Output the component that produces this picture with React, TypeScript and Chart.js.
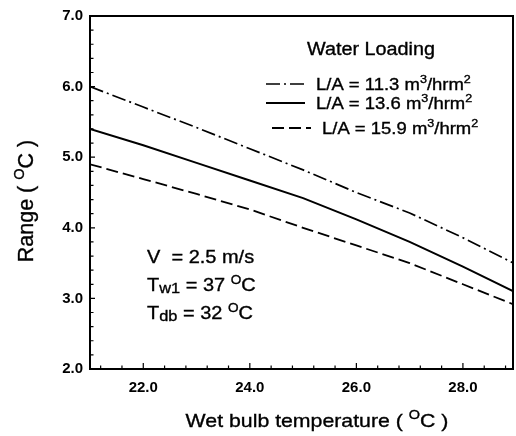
import React, { useEffect, useRef } from "react";
import { Chart, registerables } from "chart.js";

Chart.register(...registerables);

// ---- data ----
const X_VALUES = [21, 22, 23, 24, 25, 26, 27, 28, 29];
const SERIES_11_3 = [6.0, 5.71, 5.42, 5.12, 4.82, 4.5, 4.21, 3.86, 3.48];
const SERIES_13_6 = [5.4, 5.17, 4.92, 4.67, 4.42, 4.12, 3.8, 3.45, 3.08];
const SERIES_15_9 = [4.9, 4.69, 4.48, 4.26, 4.0, 3.75, 3.5, 3.2, 2.9];
const SERIES_LABELS = ["11.3", "13.6", "15.9"];
const X_TICKS = [22, 24, 26, 28];
const Y_TICKS = [2, 3, 4, 5, 6, 7];
const X_MINOR_STEP = 0.4;
const X_MINOR_START = 21.2;
const Y_MINOR_STEP = 0.2;

const FONT = "'Liberation Sans', Arial, Helvetica, sans-serif";

type Part = { t: string; sup?: boolean; sub?: boolean };

function partSize(p: Part, size: number) {
  if (p.sup) return size * 0.68;
  if (p.sub) return size * 0.82;
  return size;
}

function drawRich(
  ctx: CanvasRenderingContext2D,
  parts: Part[],
  x: number,
  y: number,
  size: number,
  sx = 1,
  align: "left" | "center" = "left"
) {
  ctx.save();
  ctx.textBaseline = "alphabetic";
  ctx.textAlign = "left";
  let w = 0;
  for (const p of parts) {
    ctx.font = `${partSize(p, size)}px ${FONT}`;
    w += ctx.measureText(p.t).width;
  }
  const start = align === "center" ? x - (w * sx) / 2 : x;
  ctx.translate(start, y);
  ctx.scale(sx, 1);
  ctx.strokeStyle = "#000";
  ctx.lineWidth = 0.35;
  let cx = 0;
  for (const p of parts) {
    const s = partSize(p, size);
    ctx.font = `${s}px ${FONT}`;
    const dy = p.sup ? -size * 0.4 : p.sub ? size * 0.12 : 0;
    ctx.fillText(p.t, cx, dy);
    ctx.strokeText(p.t, cx, dy);
    cx += ctx.measureText(p.t).width;
  }
  ctx.restore();
}

const decorPlugin = {
  id: "decor",
  afterDatasetsDraw(chart: any) {
    const ctx: CanvasRenderingContext2D = chart.ctx;
    const { left, right, top, bottom } = chart.chartArea;
    const xs = chart.scales.x;
    const ys = chart.scales.y;
    ctx.save();
    ctx.fillStyle = "#000";
    ctx.strokeStyle = "#000";

    // frame
    ctx.lineWidth = 2;
    ctx.setLineDash([]);
    ctx.strokeRect(left, top, right - left, bottom - top);

    // minor/major inward ticks
    ctx.lineWidth = 1.2;
    ctx.beginPath();
    for (let v = X_MINOR_START; v < xs.max - 0.05; v += X_MINOR_STEP) {
      const r = Math.round(v * 10) / 10;
      const px = xs.getPixelForValue(r);
      const major = X_TICKS.includes(r);
      ctx.moveTo(px, bottom);
      ctx.lineTo(px, bottom - (major ? 6 : 3.5));
    }
    for (let v = ys.min + Y_MINOR_STEP; v < ys.max - 0.05; v += Y_MINOR_STEP) {
      const r = Math.round(v * 10) / 10;
      const py = ys.getPixelForValue(r);
      const major = Y_TICKS.includes(r);
      ctx.moveTo(left, py);
      ctx.lineTo(left + (major ? 5 : 3.5), py);
    }
    ctx.stroke();

    // legend
    drawRich(ctx, [{ t: "Water Loading" }], 307, 55, 18, 1.1);
    const rows = [
      { y: 84, x0: 266, x1: 305, tx: 316, base: 90 },
      { y: 103, x0: 266, x1: 305, tx: 316, base: 109 },
      { y: 128, x0: 272, x1: 311, tx: 322, base: 134 },
    ];
    chart.data.datasets.forEach((ds: any, i: number) => {
      const r = rows[i];
      ctx.save();
      ctx.lineWidth = ds.borderWidth;
      ctx.setLineDash(ds.borderDash || []);
      ctx.beginPath();
      ctx.moveTo(r.x0, r.y);
      ctx.lineTo(r.x1, r.y);
      ctx.stroke();
      ctx.restore();
      drawRich(
        ctx,
        [
          { t: `L/A = ${SERIES_LABELS[i]} m` },
          { t: "3", sup: true },
          { t: "/hrm" },
          { t: "2", sup: true },
        ],
        r.tx,
        r.base,
        16.5,
        1.12
      );
    });

    // annotations
    drawRich(ctx, [{ t: "V  = 2.5 m/s" }], 147, 263, 18.5, 1.08);
    drawRich(
      ctx,
      [{ t: "T" }, { t: "w1", sub: true }, { t: " = 37 " }, { t: "O", sup: true }, { t: "C" }],
      147,
      291,
      18.5,
      1.08
    );
    drawRich(
      ctx,
      [{ t: "T" }, { t: "db", sub: true }, { t: " = 32 " }, { t: "O", sup: true }, { t: "C" }],
      147,
      319,
      18.5,
      1.08
    );

    // axis titles
    drawRich(
      ctx,
      [{ t: "Wet bulb temperature ( " }, { t: "O", sup: true }, { t: "C )" }],
      317,
      427,
      19,
      1.12,
      "center"
    );
    ctx.save();
    ctx.translate(33, 201);
    ctx.rotate(-Math.PI / 2);
    drawRich(
      ctx,
      [{ t: "Range ( " }, { t: "O", sup: true }, { t: "C )" }],
      0,
      0,
      21.5,
      1,
      "center"
    );
    ctx.restore();

    ctx.restore();
  },
};

export default function App() {
  const ref = useRef<HTMLCanvasElement>(null);
  useEffect(() => {
    if (!ref.current) return;
    const mk = (vals: number[]) => X_VALUES.map((x, i) => ({ x, y: vals[i] }));
    const chart = new Chart(ref.current, {
      type: "line",
      data: {
        datasets: [
          {
            label: SERIES_LABELS[0],
            data: mk(SERIES_11_3),
            borderColor: "#000",
            borderWidth: 1.7,
            borderDash: [14, 4, 2, 4],
            pointRadius: 0,
            tension: 0,
          },
          {
            label: SERIES_LABELS[1],
            data: mk(SERIES_13_6),
            borderColor: "#000",
            borderWidth: 2,
            borderDash: [],
            pointRadius: 0,
            tension: 0,
          },
          {
            label: SERIES_LABELS[2],
            data: mk(SERIES_15_9),
            borderColor: "#000",
            borderWidth: 1.8,
            borderDash: [12, 5],
            pointRadius: 0,
            tension: 0,
          },
        ],
      },
      options: {
        animation: false,
        responsive: false,
        devicePixelRatio: 1,
        layout: { padding: { top: 14, right: 3, left: 0, bottom: 0 } },
        plugins: { legend: { display: false }, tooltip: { enabled: false } },
        scales: {
          x: {
            type: "linear",
            min: 21,
            max: 28.94,
            afterBuildTicks: (s: any) => {
              s.ticks = X_TICKS.map((v) => ({ value: v }));
            },
            afterFit: (s: any) => {
              s.height = 67;
            },
            grid: { display: false, drawTicks: false },
            border: { display: false },
            ticks: {
              callback: (v: any) => Number(v).toFixed(1),
              font: { family: FONT, size: 15, weight: "bold" },
              color: "#000",
              padding: 10,
              maxRotation: 0,
              autoSkip: false,
            },
          },
          y: {
            type: "linear",
            min: 2,
            max: 7,
            afterBuildTicks: (s: any) => {
              s.ticks = Y_TICKS.map((v) => ({ value: v }));
            },
            afterFit: (s: any) => {
              s.width = 90;
            },
            grid: { display: false, drawTicks: false },
            border: { display: false },
            ticks: {
              callback: (v: any) => Number(v).toFixed(1),
              font: { family: FONT, size: 15, weight: "bold" },
              color: "#000",
              padding: 7,
              autoSkip: false,
            },
          },
        },
      },
      plugins: [decorPlugin],
    } as any);
    return () => chart.destroy();
  }, []);
  return (
    <div style={{ position: "fixed", left: 0, top: 0, width: 516, height: 436, background: "#fff" }}>
      <canvas ref={ref} width={516} height={436} style={{ display: "block" }} />
    </div>
  );
}
